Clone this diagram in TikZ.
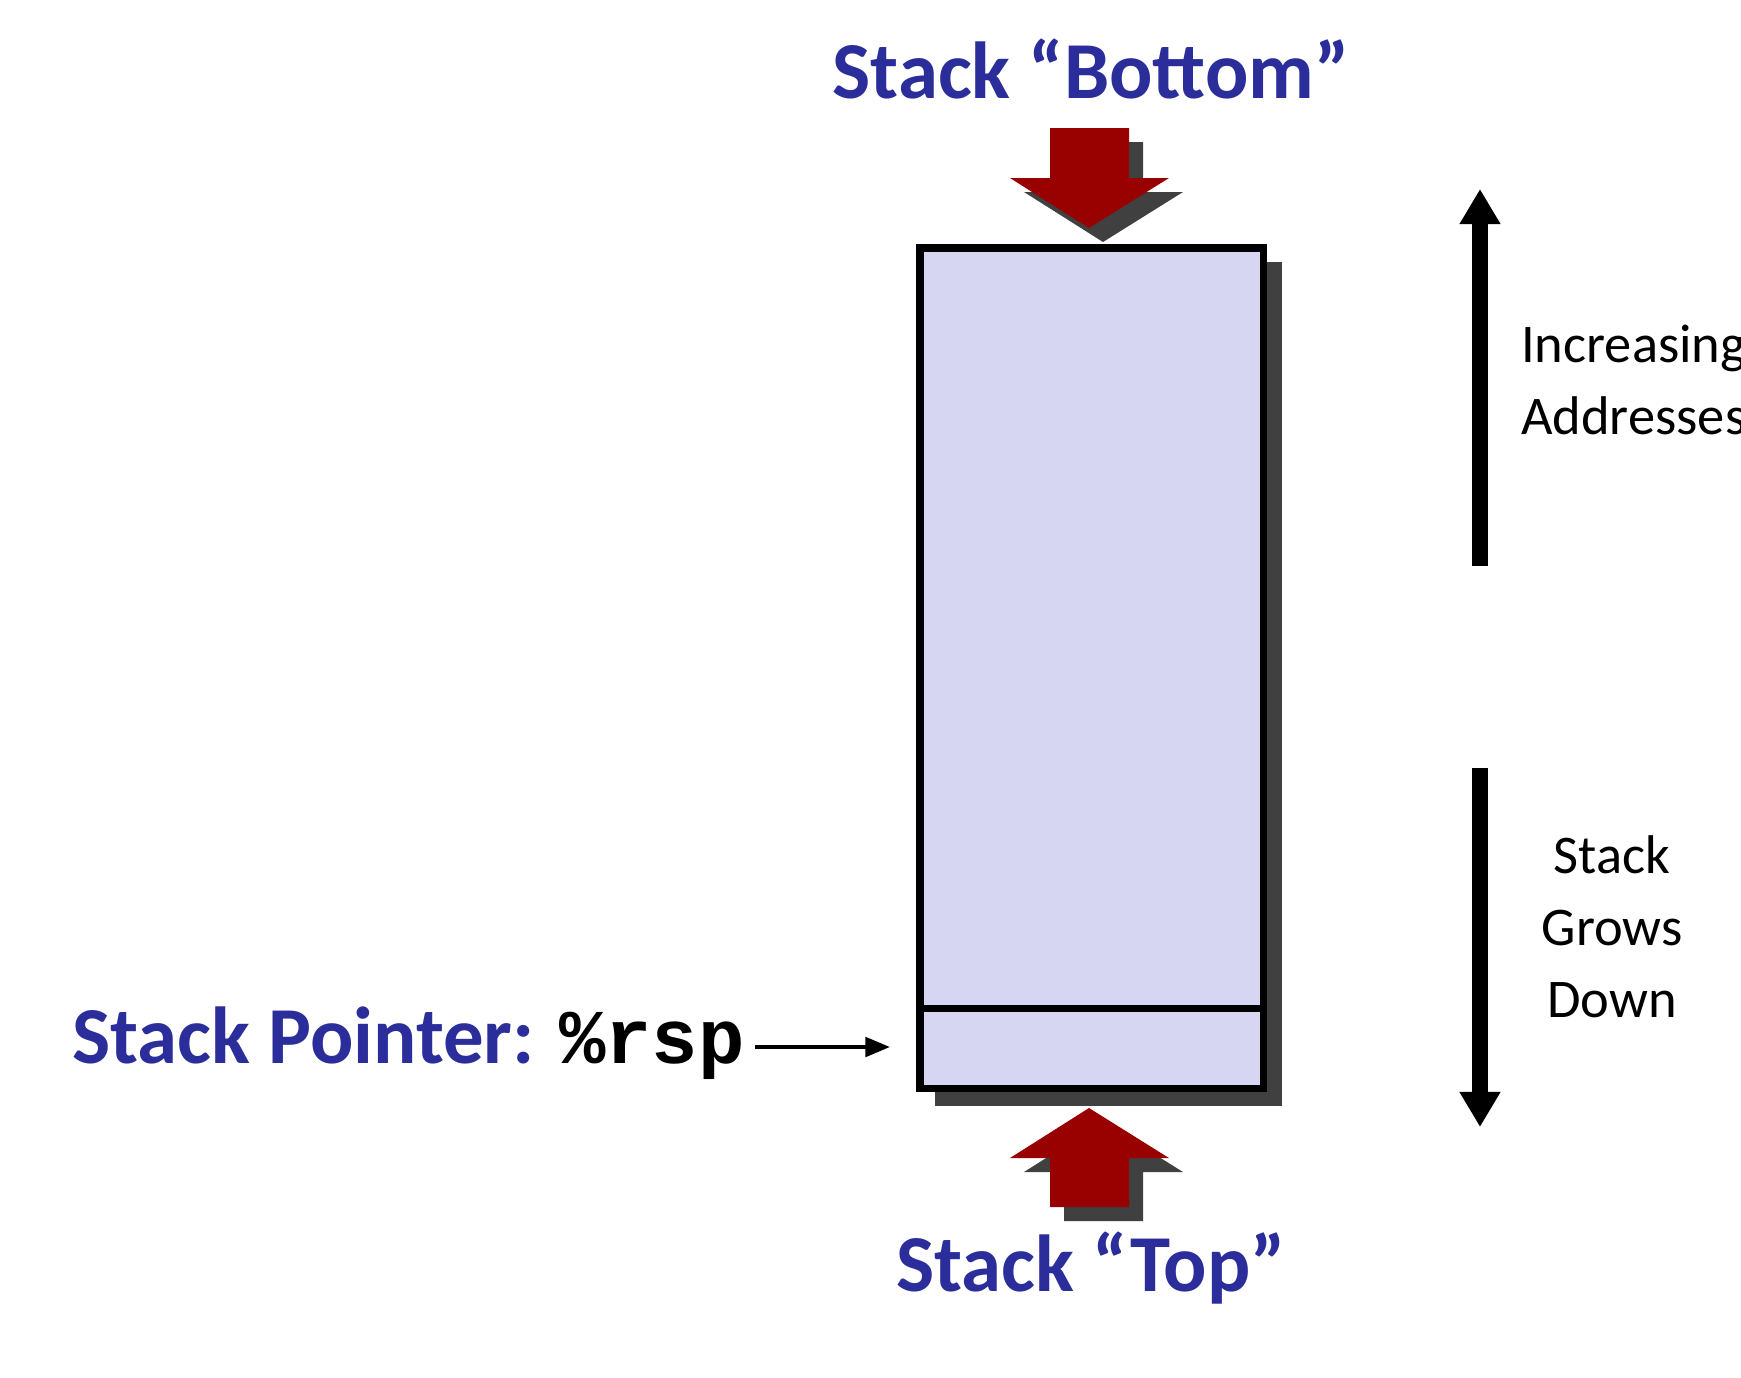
\documentclass[tikz,border=0pt]{standalone}
\usepackage{fontspec}
\setmainfont{Carlito}
\newfontfamily\codefont{Liberation Mono}
\usetikzlibrary{arrows.meta}
\begin{document}
\begin{tikzpicture}[x=0.02cm,y=-0.02cm]
  % Define colors
  \definecolor{titleblue}{RGB}{43,46,154}
  \definecolor{pushred}{RGB}{153,0,0}
  \definecolor{stackfill}{RGB}{214,214,242}
  \definecolor{dropgray}{RGB}{64,64,64}
  \tikzset{
    title/.style={font=\fontsize{46}{55}\selectfont\bfseries, text=titleblue},
    side/.style={font=\fontsize{31}{41}\selectfont, align=center},
    bigarrow/.style={line width=9pt, -{Triangle[length=20pt,width=22pt]}},
  }
  \useasboundingbox (0,0) rectangle (1741,1377);

  % Stack body with shadow
  \fill[dropgray] (935,262) rectangle (1282,1106);
  \fill[stackfill, draw=black, line width=4pt] (920,248) rectangle (1263,1088);
  \draw[line width=4pt] (920,1008) -- (1263,1008);
  \coordinate (frame) at (890,1047);

  % Block arrows
  \fill[dropgray] (1064,142) -- (1143,142) -- (1143,192) -- (1183,192) -- (1103,242) -- (1024,192) -- (1064,192) -- cycle;
  \fill[pushred] (1050,128) -- (1129,128) -- (1129,178) -- (1169,178) -- (1089,228) -- (1010,178) -- (1050,178) -- cycle;
  \fill[dropgray] (1064,1221) -- (1143,1221) -- (1143,1172) -- (1183,1172) -- (1103,1122) -- (1024,1172) -- (1064,1172) -- cycle;
  \fill[pushred] (1050,1207) -- (1129,1207) -- (1129,1158) -- (1169,1158) -- (1089,1108) -- (1010,1158) -- (1050,1158) -- cycle;

  % Titles
  \node[title] (bottom) at (1091,69) {Stack “Bottom”};
  \node[title] (top) at (1091,1268) {Stack “Top”};
  \node[title, anchor=west] (sp) at (66,1043) {Stack Pointer: {\codefont\fontsize{44}{55}\selectfont\bfseries\color{black}\%rsp}};
  \coordinate (sptail) at (755,1047);
  \draw[line width=2.4pt, -{Triangle[length=14pt,width=11pt]}] (sptail) -- (frame);

  % Direction arrows
  \coordinate (upstart) at (1480,566);
  \coordinate (upend) at (1480,189);
  \coordinate (downstart) at (1480,768);
  \coordinate (downend) at (1480,1127);
  \draw[bigarrow] (upstart) -- (upend);
  \draw[bigarrow] (downstart) -- (downend);
  \node[side, anchor=west, align=left] (incr) at (1515,380) {Increasing\\Addresses};
  \node[side] (grows) at (1612,927) {Stack\\Grows\\Down};
\end{tikzpicture}
\end{document}
